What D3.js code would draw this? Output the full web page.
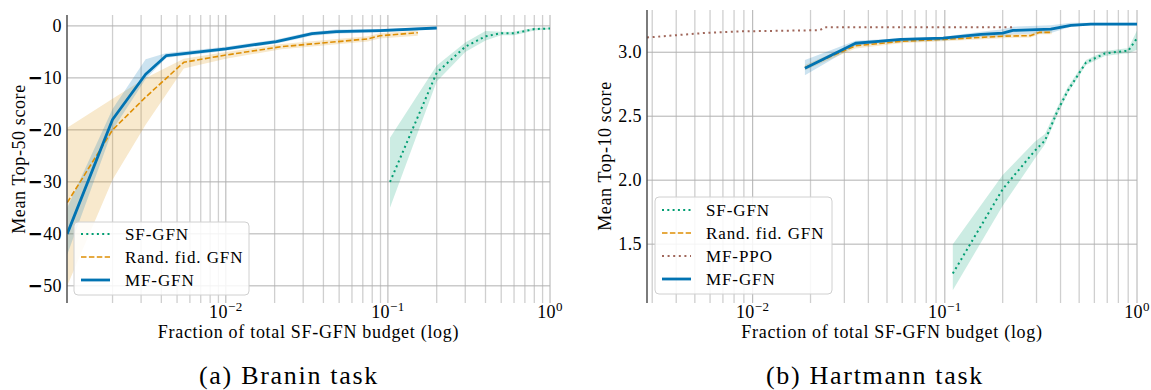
<!DOCTYPE html>
<html>
<head>
<meta charset="utf-8">
<script src="https://cdn.jsdelivr.net/npm/d3@7"></script>
<style>
  body { margin: 0; background: #fff; }
  svg { display: block; }
  text { font-family: "Liberation Serif", "DejaVu Serif", serif; fill: #000; }
</style>
</head>
<body>
<svg id="fig" width="1151" height="390"></svg>
<script>
// ---- Branin task (a) ----
const braninSfX = [0.103, 0.2, 0.3, 0.4, 0.5, 0.6, 0.7, 0.8, 1.0];
const braninSfMean = [-30, -9, -4, -2, -1.4, -1.4, -1.0, -0.6, -0.5];
const braninSfLo = [-35, -10.7, -5, -2.8, -1.8, -1.8, -1.3, -0.9, -0.7];
const braninSfHi = [-21.5, -7.6, -3.2, -1.0, -1.1, -1.1, -0.7, -0.4, -0.3];

const braninRandX = [0.00105, 0.002, 0.0032, 0.0055, 0.01, 0.022, 0.028, 0.075, 0.089, 0.153];
const braninRandMean = [-34, -20, -13.7, -7.0, -5.6, -4.0, -3.7, -2.5, -1.9, -1.3];
const braninRandLo = [-50, -29.6, -19, -8.2, -6.3, -4.5, -4.2, -3.0, -2.4, -1.9];
const braninRandHi = [-19.6, -14, -10, -6.3, -5.0, -3.5, -3.2, -2.0, -1.4, -0.9];

const braninMfX = [0.00105, 0.002, 0.0032, 0.0043, 0.01, 0.0205, 0.0286, 0.034, 0.048, 0.089, 0.2];
const braninMfMean = [-40, -18, -9.3, -5.7, -4.4, -3.0, -2.0, -1.5, -1.1, -0.9, -0.4];
const braninMfLo = [-44, -20, -10.2, -6.1, -4.8, -3.4, -2.4, -1.9, -1.5, -1.2, -0.6];
const braninMfHi = [-35, -16, -6.4, -5.2, -4.0, -2.6, -1.6, -1.1, -0.7, -0.6, -0.2];

const braninYTicks = [0, -10, -20, -30, -40, -50];

// ---- Hartmann task (b) ----
const hartSfX = [0.11, 0.2, 0.294, 0.332, 0.388, 0.437, 0.543, 0.681, 0.866, 0.9, 1.0];
const hartSfMean = [1.27, 1.93, 2.23, 2.31, 2.55, 2.70, 2.92, 2.99, 3.01, 3.01, 3.11];
const hartSfLo = [1.14, 1.80, 2.17, 2.28, 2.52, 2.68, 2.90, 2.97, 2.99, 2.99, 3.02];
const hartSfHi = [1.50, 2.04, 2.30, 2.36, 2.58, 2.73, 2.94, 3.01, 3.03, 3.03, 3.17];

const hartRandX = [0.0187, 0.0343, 0.059, 0.098, 0.2, 0.28, 0.31, 0.36];
const hartRandMean = [2.88, 3.05, 3.085, 3.10, 3.125, 3.13, 3.155, 3.155];
const hartRandLo = [2.86, 3.03, 3.07, 3.085, 3.11, 3.115, 3.14, 3.14];
const hartRandHi = [2.90, 3.07, 3.10, 3.115, 3.14, 3.145, 3.17, 3.17];

const hartPpoX = [0.00282, 0.004, 0.0058, 0.0086, 0.0223, 0.0237, 0.23];
const hartPpoMean = [3.115, 3.133, 3.152, 3.163, 3.172, 3.195, 3.195];

const hartMfX = [0.0187, 0.0343, 0.045, 0.059, 0.098, 0.154, 0.2, 0.226, 0.356, 0.453, 0.575, 1.0];
const hartMfMean = [2.875, 3.07, 3.085, 3.10, 3.11, 3.14, 3.15, 3.17, 3.18, 3.21, 3.22, 3.22];
const hartMfLo = [2.82, 3.05, 3.07, 3.08, 3.09, 3.12, 3.12, 3.14, 3.15, 3.20, 3.21, 3.21];
const hartMfHi = [2.94, 3.09, 3.10, 3.11, 3.12, 3.16, 3.18, 3.20, 3.21, 3.23, 3.23, 3.23];

const hartYTicks = [1.5, 2.0, 2.5, 3.0];

const xTickValues = [0.01, 0.1, 1];
const xTickExponents = ['\u22122', '\u22121', '0'];

const COLORS = { sf: '#029e73', rand: '#de8f05', ppo: '#a0675b', mf: '#0173b2' };

const pack = (xs, mean, lo, hi) => xs.map((x, i) => ({ x, y: mean[i], lo: lo ? lo[i] : null, hi: hi ? hi[i] : null }));

const svg = d3.select('#fig');

function drawPanel(cfg) {
  const g = svg.append('g');
  const x = d3.scaleLog().domain(cfg.xDomain).range([cfg.left, cfg.right]);
  const y = d3.scaleLinear().domain(cfg.yDomain).range([cfg.bottom, cfg.top]);

  // vertical grid: decades and minor ticks
  const minor = [];
  for (let e = -3; e <= 0; e++) {
    for (let m = 1; m <= 9; m++) {
      const v = m * Math.pow(10, e);
      if (v >= cfg.xDomain[0] * 0.999 && v <= 1.0001) minor.push({ v, major: m === 1 });
    }
  }
  g.append('g').selectAll('line').data(minor).join('line')
    .attr('x1', (d) => x(d.v)).attr('x2', (d) => x(d.v))
    .attr('y1', cfg.top).attr('y2', cfg.bottom)
    .attr('stroke', (d) => (d.major ? '#b0b0b0' : '#cfcfcf'))
    .attr('stroke-width', (d) => (d.major ? 1 : 1.3));

  // horizontal grid
  g.append('g').selectAll('line').data(cfg.yTicks).join('line')
    .attr('x1', cfg.left).attr('x2', cfg.right)
    .attr('y1', (d) => y(d)).attr('y2', (d) => y(d))
    .attr('stroke', '#b0b0b0').attr('stroke-width', 1);

  const clipId = 'clip-' + cfg.id;
  svg.append('clipPath').attr('id', clipId).append('rect')
    .attr('x', cfg.left).attr('y', cfg.top)
    .attr('width', cfg.right - cfg.left).attr('height', cfg.bottom - cfg.top);

  const plot = g.append('g').attr('clip-path', `url(#${clipId})`);
  const area = d3.area().x((d) => x(d.x)).y0((d) => y(d.lo)).y1((d) => y(d.hi));
  const line = d3.line().x((d) => x(d.x)).y((d) => y(d.y));

  cfg.series.filter((s) => s.band).forEach((s) => {
    plot.append('path').attr('d', area(s.data)).attr('fill', s.color).attr('fill-opacity', 0.2);
  });
  cfg.series.forEach((s) => {
    plot.append('path').attr('d', line(s.data))
      .attr('fill', 'none').attr('stroke', s.color).attr('stroke-width', s.width)
      .attr('stroke-dasharray', s.dash || null).attr('stroke-linejoin', 'round');
  });

  // left spine
  g.append('line').attr('x1', cfg.left).attr('x2', cfg.left)
    .attr('y1', cfg.top).attr('y2', cfg.bottom)
    .attr('stroke', '#444').attr('stroke-width', 1.4);

  // y tick labels
  const yAxis = d3.axisLeft(y).tickValues(cfg.yTicks).tickSize(0).tickPadding(5).tickFormat(cfg.yFormat);
  const ya = g.append('g').attr('transform', `translate(${cfg.left},0)`).call(yAxis);
  ya.select('.domain').remove();
  ya.selectAll('text').attr('font-family', '"Liberation Serif", serif').attr('font-size', 18)
    .attr('letter-spacing', 0.4)
    .each(function (d) {
      const t = d3.select(this);
      const s = cfg.yFormat(d);
      t.text(null);
      if (s.startsWith('-')) {
        t.append('tspan').attr('font-family', '"DejaVu Sans", sans-serif').attr('font-weight', 'bold').text('\u2212');
        t.append('tspan').text(s.slice(1));
      } else {
        t.text(s);
      }
    });

  // x tick labels 10^n
  const xa = g.append('g').attr('transform', `translate(0,${cfg.bottom})`)
    .call(d3.axisBottom(x).tickValues(xTickValues).tickSize(0).tickFormat(() => ''));
  xa.select('.domain').remove();
  xa.selectAll('text').remove();
  xTickValues.forEach((v, i) => {
    const t = g.append('text').attr('x', x(v)).attr('y', cfg.bottom + 15)
      .attr('text-anchor', 'middle').attr('font-size', 18).attr('letter-spacing', 0.4);
    t.append('tspan').text('10');
    t.append('tspan').attr('font-size', 13).attr('dy', -7).text(xTickExponents[i]);
  });

  // axis labels
  g.append('text').attr('x', (cfg.left + cfg.right) / 2).attr('y', cfg.bottom + 35)
    .attr('text-anchor', 'middle').attr('font-size', 18).attr('letter-spacing', 0.7)
    .text('Fraction of total SF-GFN budget (log)');
  g.append('text')
    .attr('transform', `translate(${cfg.ylabelX},${cfg.ylabelY}) rotate(-90)`)
    .attr('text-anchor', 'middle').attr('font-size', 18).attr('letter-spacing', 0.6)
    .text(cfg.ylabel);

  // caption
  g.append('text').attr('x', cfg.captionX).attr('y', 384)
    .attr('text-anchor', 'middle').attr('font-size', 26).attr('letter-spacing', 1.7)
    .text(cfg.caption);

  // legend
  const lg = g.append('g');
  lg.append('rect').attr('x', cfg.legend.x).attr('y', cfg.legend.y)
    .attr('width', cfg.legend.w).attr('height', cfg.legend.h)
    .attr('rx', 4).attr('fill', '#fff').attr('fill-opacity', 0.85)
    .attr('stroke', '#d0d0d0').attr('stroke-width', 1);
  cfg.legend.items.forEach((s, i) => {
    const cy = cfg.legend.y + cfg.legend.first + i * cfg.legend.step;
    lg.append('line').attr('x1', cfg.legend.x + 7).attr('x2', cfg.legend.x + 36)
      .attr('y1', cy).attr('y2', cy)
      .attr('stroke', s.color).attr('stroke-width', s.width)
      .attr('stroke-dasharray', s.dash || null);
    lg.append('text').attr('x', cfg.legend.x + 51).attr('y', cy + 6)
      .attr('font-size', 17).attr('letter-spacing', 0.9).text(s.label);
  });
}

const sfStyle = { color: COLORS.sf, width: 2, dash: '2,3.3', label: 'SF-GFN' };
const randStyle = { color: COLORS.rand, width: 1.6, dash: '5.5,2.4', label: 'Rand. fid. GFN' };
const ppoStyle = { color: COLORS.ppo, width: 2, dash: '2,3.6', label: 'MF-PPO' };
const mfStyle = { color: COLORS.mf, width: 2.8, dash: null, label: 'MF-GFN' };

drawPanel({
  id: 'a', left: 67, right: 550, top: 15, bottom: 303,
  xDomain: [Math.pow(10, -2.98), 1], yDomain: [-53.3, 2.1],
  yTicks: braninYTicks, yFormat: (d) => String(d),
  ylabel: 'Mean Top-50 score', ylabelX: 25, ylabelY: 159,
  caption: '(a) Branin task', captionX: 289,
  series: [
    { ...sfStyle, band: true, data: pack(braninSfX, braninSfMean, braninSfLo, braninSfHi) },
    { ...randStyle, band: true, data: pack(braninRandX, braninRandMean, braninRandLo, braninRandHi) },
    { ...mfStyle, band: true, data: pack(braninMfX, braninMfMean, braninMfLo, braninMfHi) }
  ],
  legend: { x: 74, y: 222, w: 175, h: 73, first: 12, step: 23, items: [sfStyle, randStyle, mfStyle] }
});

drawPanel({
  id: 'b', left: 647, right: 1137, top: 10, bottom: 303,
  xDomain: [Math.pow(10, -2.55), 1], yDomain: [1.04, 3.33],
  yTicks: hartYTicks, yFormat: d3.format('.1f'),
  ylabel: 'Mean Top-10 score', ylabelX: 611, ylabelY: 156,
  caption: '(b) Hartmann task', captionX: 875,
  series: [
    { ...sfStyle, band: true, data: pack(hartSfX, hartSfMean, hartSfLo, hartSfHi) },
    { ...randStyle, band: true, data: pack(hartRandX, hartRandMean, hartRandLo, hartRandHi) },
    { ...ppoStyle, band: false, data: pack(hartPpoX, hartPpoMean) },
    { ...mfStyle, band: true, data: pack(hartMfX, hartMfMean, hartMfLo, hartMfHi) }
  ],
  legend: { x: 655, y: 197, w: 177, h: 97, first: 13, step: 23, items: [sfStyle, randStyle, ppoStyle, mfStyle] }
});
</script>
</body>
</html>
